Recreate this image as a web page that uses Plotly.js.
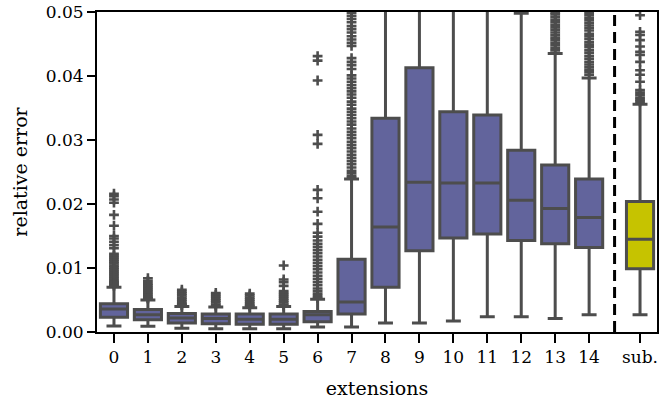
<!DOCTYPE html>
<html>
<head>
<meta charset="utf-8">
<script src="https://cdn.plot.ly/plotly-3.0.1.min.js"></script>
<style>
  html, body { margin: 0; padding: 0; background: #fff; }
  #chart { width: 662px; height: 405px; }
</style>
</head>
<body>
<div id="chart"></div>
<script>
// ---- data ----
const categories = ["0","1","2","3","4","5","6","7","8","9","10","11","12","13","14","sub."];
const q1         = [0.0023,0.0019,0.0014,0.0013,0.0012,0.0012,0.0016,0.0028,0.0070,0.0127,0.0147,0.0153,0.0143,0.0138,0.0132,0.0099];
const medians    = [0.0036,0.0027,0.0022,0.0021,0.0020,0.0020,0.0027,0.0047,0.0164,0.0234,0.0233,0.0233,0.0206,0.0193,0.0179,0.0145];
const q3         = [0.0044,0.0035,0.0029,0.0028,0.0028,0.0028,0.0032,0.01135,0.0334,0.0413,0.0344,0.0339,0.0284,0.0261,0.0239,0.0204];
const lowerWhisk = [0.00094,0.0009,0.0006,0.0005,0.0005,0.0005,0.0008,0.0008,0.0014,0.0014,0.0017,0.0024,0.0024,0.0021,0.0027,0.0027];
const upperWhisk = [0.0070,0.0050,0.0040,0.0039,0.0038,0.0040,0.0051,0.0239,0.0720,0.0820,0.0640,0.0620,0.0498,0.0435,0.0397,0.0356];

const outliers0 = [0.0216,0.0212,0.0207,0.0202,0.0183,0.0166,0.0150,0.0146,0.0141,0.0136,0.0131,0.0122,0.0119,0.0116,0.0113,0.0110,0.0107,0.0104,0.0101,0.0098,0.0095,0.0092,0.0089,0.0086,0.0083,0.0080,0.0078,0.0076,0.0074,0.0072];
const outliers1 = [0.0084,0.0080,0.0076,0.0073,0.0070,0.0067,0.0064,0.0061,0.0058,0.0055,0.0053,0.0052];
const outliers2 = [0.0066,0.0063,0.0060,0.0057,0.0054,0.0051,0.0048,0.0045,0.0043,0.0042];
const outliers3 = [0.0061,0.0058,0.0055,0.0052,0.0049,0.0046,0.0043,0.0041];
const outliers4 = [0.0060,0.0057,0.0054,0.0051,0.0048,0.0045,0.0042,0.0040];
const outliers5 = [0.0104,0.0082,0.0078,0.0072,0.0064,0.0061,0.0058,0.0055,0.0052,0.0049,0.0046,0.0043,0.0041];
const outliers6 = [0.0431,0.0424,0.0393,0.0308,0.0294,0.0222,0.0209,0.0188,0.0169,0.0155,0.0149,0.0143,0.0138,0.0133,0.0128,0.0123,0.0118,0.0113,0.0108,0.0103,0.0098,0.0093,0.0088,0.0083,0.0078,0.0073,0.0068,0.0064,0.0060,0.0056,0.0053];
const outliers7 = [0.0499,0.0494,0.0489,0.0484,0.0478,0.0473,0.0468,0.0462,0.0457,0.0452,0.0447,0.0428,0.0422,0.0417,0.0411,0.0401,0.0396,0.0391,0.0386,0.0381,0.0376,0.0371,0.0366,0.0360,0.0355,0.0349,0.0344,0.0339,0.0334,0.0329,0.0324,0.0318,0.0313,0.0308,0.0303,0.0297,0.0292,0.0287,0.0282,0.0277,0.0272,0.0267,0.0262,0.0257,0.0252,0.0248,0.0244,0.0241];
const outliers8 = [];
const outliers9 = [];
const outliers10 = [];
const outliers11 = [];
const outliers12 = [];
const outliers13 = [0.0499,0.0496,0.0492,0.0488,0.0484,0.0480,0.0476,0.0472,0.0468,0.0464,0.0460,0.0456,0.0452,0.0448,0.0444,0.0440];
const outliers14 = [0.0499,0.0495,0.0491,0.0487,0.0483,0.0479,0.0475,0.0471,0.0466,0.0462,0.0458,0.0453,0.0449,0.0445,0.0440,0.0436,0.0431,0.0427,0.0422,0.0418,0.0414,0.0410,0.0406,0.0402];
const outliersSub = [0.0495,0.0469,0.0464,0.0456,0.0446,0.0438,0.0433,0.0422,0.0409,0.0402,0.0391,0.0378,0.0374,0.0370,0.0366,0.0363,0.0360];

const outlierLists = [outliers0,outliers1,outliers2,outliers3,outliers4,outliers5,outliers6,outliers7,outliers8,outliers9,outliers10,outliers11,outliers12,outliers13,outliers14,outliersSub];

// ---- layout helpers ----
const SUB_GAP = 0.5;          // extra gap before the "sub." column
const nExt = categories.length - 1;
const xpos = categories.map((c, i) => i < nExt ? i : i + SUB_GAP);
const sepX = nExt - 1 + 0.75; // dashed separator

const lineCol = "#4d4d4d";
const extCol = "#62649c";
const subCol = "#c6c300";

function boxTrace(idx, color) {
  return {
    type: "box",
    x: idx.map(i => xpos[i]),
    q1: idx.map(i => q1[i]),
    median: idx.map(i => medians[i]),
    q3: idx.map(i => q3[i]),
    lowerfence: idx.map(i => lowerWhisk[i]),
    upperfence: idx.map(i => upperWhisk[i]),
    width: 0.8,
    whiskerwidth: 0.55,
    fillcolor: color,
    line: { color: lineCol, width: 3 },
    boxpoints: false,
    showlegend: false,
    hoverinfo: "skip"
  };
}

const extIdx = categories.map((c, i) => i).filter(i => i < nExt);
const subIdx = [nExt];

const ox = [], oy = [];
outlierLists.forEach((lst, i) => lst.forEach(v => { ox.push(xpos[i]); oy.push(v); }));

const data = [
  boxTrace(extIdx, extCol),
  boxTrace(subIdx, subCol),
  {
    type: "scatter", mode: "markers", x: ox, y: oy,
    marker: { symbol: "cross-thin", size: 7, color: lineCol, line: { color: lineCol, width: 2.6 } },
    showlegend: false, hoverinfo: "skip", cliponaxis: true
  }
];

const font = { family: "DejaVu Serif, serif", size: 17, color: "#000" };

const layout = {
  width: 662, height: 405,
  margin: { l: 97, r: 5, t: 12, b: 73 },
  paper_bgcolor: "#fff", plot_bgcolor: "#fff",
  boxmode: "overlay",
  font: font,
  showlegend: false,
  xaxis: {
    range: [-0.5, nExt + SUB_GAP + 0.5],
    tickmode: "array", tickvals: xpos, ticktext: categories,
    showgrid: false, zeroline: false,
    showline: true, linecolor: "#000", linewidth: 2, mirror: true,
    ticks: "outside", ticklen: 9, tickwidth: 2, tickcolor: "#000",
    tickfont: { family: "DejaVu Serif, serif", size: 17 },
    title: { text: "extensions", font: { family: "DejaVu Serif, serif", size: 19 }, standoff: 15 }
  },
  yaxis: {
    range: [0, 0.05],
    tickmode: "array", tickvals: [0, 0.01, 0.02, 0.03, 0.04, 0.05],
    ticktext: ["0.00", "0.01", "0.02", "0.03", "0.04", "0.05"],
    showgrid: false, zeroline: false,
    showline: true, linecolor: "#000", linewidth: 2, mirror: true,
    ticks: "outside", ticklen: 8, tickwidth: 2, tickcolor: "#000",
    tickfont: { family: "DejaVu Serif, serif", size: 17 },
    title: { text: "relative error", font: { family: "DejaVu Serif, serif", size: 19 }, standoff: 13 }
  },
  shapes: [{
    type: "line", xref: "x", yref: "paper",
    x0: sepX, x1: sepX, y0: 0, y1: 1,
    line: { color: "#000", width: 3, dash: "11px,6px" }
  }]
};

Plotly.newPlot("chart", data, layout, { displayModeBar: false, staticPlot: true });
</script>
</body>
</html>
